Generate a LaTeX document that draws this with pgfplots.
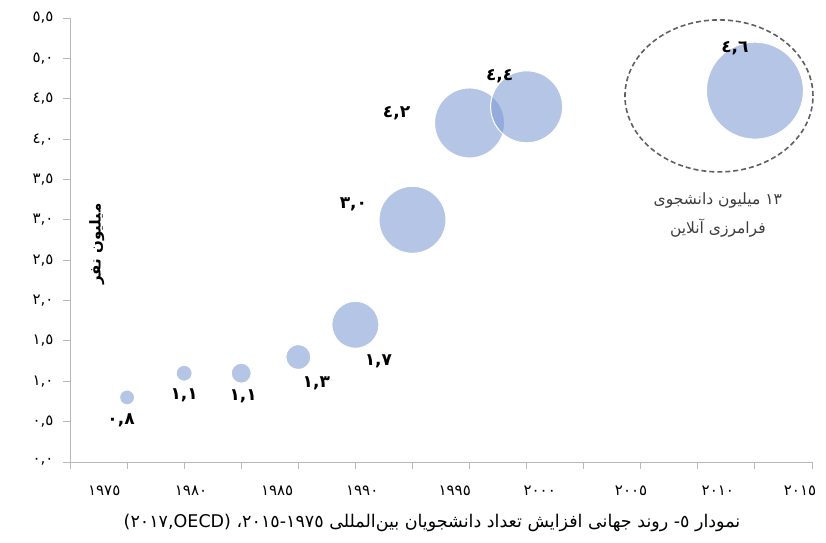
\documentclass[border=0pt]{standalone}
\usepackage{fontspec}
\usepackage{pgfplots}
\usepackage{pgfplotstable}
\pgfplotsset{compat=1.18}
\setmainfont{DejaVu Sans}
\newfontfamily\arabicfont[Script=Arabic]{DejaVu Sans}
\TeXXeTstate=1

\definecolor{bubble}{RGB}{120,150,210}
\definecolor{axisgray}{RGB}{185,185,185}
\definecolor{dashgray}{RGB}{95,95,95}
\definecolor{notegray}{RGB}{60,60,60}

% x = position on the axis (one step per tick), y = million students, r = bubble radius
\pgfplotstableread{
x  y   r
1  0.8 7.5
2  1.1 8
3  1.1 10
4  1.3 12.5
5  1.7 23.5
6  3.0 33.5
7  4.2 35
8  4.4 36
12 4.6 48.5
}\bubbles

% data labels, offsets in pt from the bubble centre
\pgfplotstableread{
x  y   dx  dy  lbl
1  0.8 -6  -23 ٠,٨
2  1.1 0   -22 ١,١
3  1.1 2   -23 ١,١
4  1.3 18  -26 ١,٣
5  1.7 23  -37 ١,٧
6  3.0 -59 16  ٣,٠
7  4.2 -73 10  ٤,٢
8  4.4 -27 31  ٤,٤
12 4.6 -20 42  ٤,٦
}\labels

\begin{document}
\begin{tikzpicture}
\path[use as bounding box] (0,0) rectangle (826pt,542pt);
\begin{axis}[
  at={(70pt,80pt)}, anchor=south west,
  scale only axis, width=742pt, height=444pt,
  xmin=0, xmax=13, ymin=0, ymax=5.5,
  axis x line=bottom, axis y line=left,
  axis line style={axisgray, line width=1pt, -},
  clip=false,
  tick align=outside,
  major tick length=7pt,
  tick style={axisgray, line width=1pt},
  xtick={0,1,...,13},
  xticklabels={,,,,,,,,,,,,,},
  extra x ticks={0.6,2.12,3.63,5.12,6.74,8.23,9.83,11.35,12.79},
  extra x tick labels={١٩٧٥,١٩٨٠,١٩٨٥,١٩٩٠,١٩٩٥,٢٠٠٠,٢٠٠٥,٢٠١٠,٢٠١٥},
  extra x tick style={major tick length=0pt, xticklabel style={yshift=-20pt}},
  ytick={0,0.5,...,5.5},
  yticklabels={{٠,٠},{٠,٥},{١,٠},{١,٥},{٢,٠},{٢,٥},{٣,٠},{٣,٥},{٤,٠},{٤,٥},{٥,٠},{٥,٥}},
  yticklabel style={xshift=-6pt},
  ticklabel style={font=\arabicfont\fontsize{15}{18}\selectfont, text=black},
]

\addplot[scatter, only marks, mark=*,
  visualization depends on={\thisrow{r}\as\rr},
  scatter/use mapped color={draw=white, fill=bubble, fill opacity=0.55, line width=1pt},
  scatter/@pre marker code/.append style={/tikz/mark size=\rr pt},
] table[x=x, y=y] {\bubbles};

\addplot[only marks, mark=none,
  visualization depends on={\thisrow{dx}\as\dx},
  visualization depends on={\thisrow{dy}\as\dy},
  nodes near coords, point meta=explicit symbolic,
  nodes near coords style={anchor=center, xshift=\dx pt, yshift=\dy pt,
    font=\arabicfont\bfseries\fontsize{17}{19}\selectfont, text=black},
] table[x=x, y=y, meta=lbl] {\labels};

% online students
\draw[dashgray, dashed, line width=1.6pt, dash pattern=on 5pt off 3pt]
  (axis cs:11.37,4.535) ellipse [x radius=94pt, y radius=76pt];
\node[font=\arabicfont\fontsize{15.5}{17}\selectfont, text=notegray]
  at (axis cs:11.35,3.245) {\beginR\beginL١٣\endL{} میلیون دانشجوی\endR};
\node[font=\arabicfont\fontsize{15.5}{17}\selectfont, text=notegray]
  at (axis cs:11.35,2.90) {\beginR فرامرزی آنلاین\endR};

\node[rotate=90, font=\arabicfont\bfseries\fontsize{15}{18}\selectfont]
  at (axis cs:0.47,2.70) {\beginR میلیون نفر\endR};
\end{axis}

\node[font=\arabicfont\fontsize{17.5}{20}\selectfont] at (432pt,19pt)
  {\beginR نمودار ٥- روند جهانی افزایش تعداد دانشجویان بین‌المللی \beginL١٩٧٥-٢٠١٥\endL، \beginL(٢٠١٧,OECD)\endL\endR};
\end{tikzpicture}
\end{document}
